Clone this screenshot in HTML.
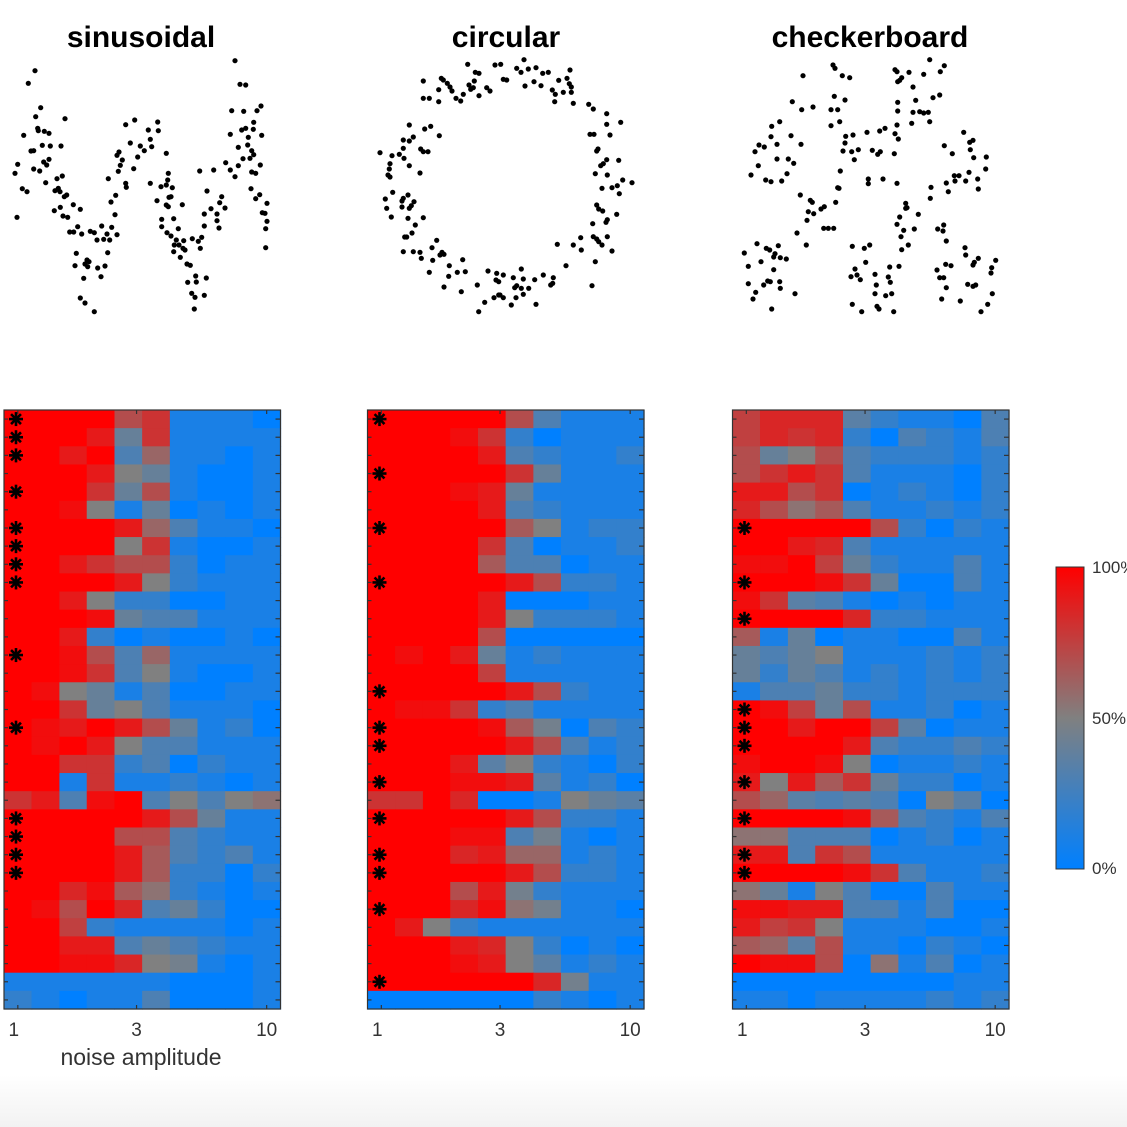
<!DOCTYPE html>
<html><head><meta charset="utf-8">
<style>
html,body{margin:0;padding:0;background:#fff;}
body{width:1127px;height:1127px;overflow:hidden;font-family:"Liberation Sans",Arial,sans-serif;}
svg{display:block;}
</style></head>
<body>
<svg id="fig" width="1127" height="1127" viewBox="0 0 1127 1127" xmlns="http://www.w3.org/2000/svg">
<defs>
<linearGradient id="cbgrad" x1="0" y1="0" x2="0" y2="1">
<stop offset="0" stop-color="#ff0000"/><stop offset="0.5" stop-color="#808080"/><stop offset="1" stop-color="#0080ff"/>
</linearGradient>
<linearGradient id="bottomfade" x1="0" y1="0" x2="0" y2="1">
<stop offset="0" stop-color="#ffffff"/><stop offset="1" stop-color="#f2f2f2"/>
</linearGradient>
</defs>
<rect x="0" y="1075" width="1127" height="52" fill="url(#bottomfade)"/>
<g id="layer"></g>
<g>
<rect x="1056" y="567" width="28" height="302" fill="url(#cbgrad)" stroke="#333" stroke-width="1"/>
<text x="1092" y="573" font-size="17" fill="#333">100%</text>
<text x="1092" y="724" font-size="17" fill="#333">50%</text>
<text x="1092" y="874" font-size="17" fill="#333">0%</text>
</g>
</svg>
<script>
// ---------- scatter data (x,y in local data units) ----------
const sinPts=[[90,32],[70,70],[690,2],[705,73],[722,75],[107,143],[92,170],[180,176],[680,152],[716,154],[756,152],[768,138],[56,226],[98,205],[100,212],[118,214],[132,220],[362,194],[389,180],[458,186],[430,210],[460,212],[676,223],[710,210],[722,205],[746,187],[745,208],[770,226],[730,232],[112,256],[136,258],[168,258],[78,273],[86,272],[376,249],[406,258],[440,260],[418,272],[436,238],[342,276],[336,286],[352,300],[398,291],[484,280],[700,262],[728,255],[740,272],[746,284],[735,295],[714,296],[38,313],[30,340],[86,327],[104,333],[116,306],[125,315],[132,298],[346,316],[340,334],[386,326],[662,308],[676,330],[690,350],[700,317],[584,333],[626,330],[740,336],[752,340],[766,315],[122,368],[156,356],[172,348],[150,392],[160,385],[165,395],[178,410],[185,405],[310,356],[362,370],[364,382],[436,370],[468,380],[484,375],[490,340],[488,360],[502,383],[498,410],[52,386],[66,395],[738,386],[752,416],[764,404],[786,430],[36,472],[148,452],[166,442],[205,434],[226,448],[174,468],[188,472],[318,426],[332,406],[330,464],[456,422],[484,435],[492,412],[490,440],[532,434],[606,393],[650,410],[644,428],[660,444],[598,462],[618,446],[636,462],[636,482],[642,504],[772,458],[780,460],[786,484],[782,506],[782,563],[194,516],[206,516],[218,500],[230,522],[256,514],[268,518],[290,498],[276,540],[296,538],[314,540],[306,522],[320,502],[336,524],[470,478],[470,500],[506,476],[486,518],[498,528],[520,506],[514,540],[508,555],[522,555],[536,542],[534,565],[540,570],[526,592],[506,575],[562,536],[580,544],[590,532],[586,565],[598,498],[214,580],[210,617],[240,612],[246,600],[252,605],[248,620],[278,624],[300,618],[308,578],[236,655],[288,650],[546,612],[556,616],[548,667],[572,648],[574,666],[604,654],[226,714],[240,729],[268,755],[560,700],[570,712],[598,706],[568,747]];
const circPts=[[293,28],[375,30],[392,28],[462,14],[440,40],[453,52],[475,42],[498,38],[518,55],[535,52],[600,45],[566,76],[591,70],[598,86],[604,96],[604,112],[610,145],[580,112],[556,118],[547,105],[554,140],[492,80],[513,92],[465,93],[400,73],[410,75],[316,52],[327,55],[313,78],[297,90],[302,103],[310,98],[350,98],[360,108],[327,122],[280,118],[272,138],[258,130],[240,96],[246,108],[232,85],[214,70],[220,75],[206,104],[206,140],[178,130],[160,130],[160,78],[656,148],[670,162],[710,176],[710,208],[752,202],[660,238],[672,238],[720,240],[684,282],[680,288],[710,314],[700,326],[746,316],[692,332],[676,356],[712,360],[758,375],[786,383],[742,392],[726,398],[748,416],[696,400],[680,450],[686,462],[698,468],[740,478],[712,494],[708,502],[668,506],[670,545],[680,552],[686,560],[712,545],[632,548],[610,570],[634,585],[696,570],[726,588],[676,620],[588,632],[562,568],[666,692],[550,668],[542,690],[548,685],[520,660],[494,674],[498,748],[476,700],[454,642],[460,672],[440,692],[434,698],[454,700],[460,718],[438,728],[424,750],[430,668],[400,660],[380,655],[378,675],[386,680],[354,648],[322,690],[372,728],[390,720],[400,728],[386,720],[344,742],[326,770],[278,614],[286,650],[262,652],[236,664],[238,632],[274,710],[222,696],[178,652],[188,616],[216,592],[210,600],[222,598],[186,578],[200,556],[154,610],[150,592],[130,590],[100,590],[104,546],[110,546],[126,534],[136,510],[114,490],[160,488],[64,486],[46,432],[50,460],[68,412],[96,438],[96,456],[100,430],[114,420],[118,460],[124,452],[132,440],[150,354],[118,332],[102,310],[88,298],[66,302],[60,326],[58,342],[54,360],[60,366],[30,293],[100,280],[100,255],[118,258],[130,246],[118,210],[164,222],[182,214],[208,242],[152,282],[160,290],[174,290]];
const checkPts=[[294,30],[300,40],[322,62],[344,68],[204,62],[172,140],[200,164],[234,156],[298,124],[330,135],[288,164],[308,164],[288,212],[314,200],[110,214],[134,200],[108,245],[168,242],[198,268],[72,270],[88,276],[60,290],[126,268],[126,312],[160,312],[176,325],[70,332],[48,360],[92,375],[108,380],[140,378],[156,356],[332,244],[354,240],[330,264],[324,288],[350,290],[370,284],[358,314],[396,232],[434,228],[450,220],[412,286],[428,298],[436,290],[478,296],[486,210],[480,236],[490,252],[316,348],[308,398],[312,400],[400,372],[400,386],[444,372],[486,385],[486,50],[480,44],[494,76],[500,68],[488,80],[522,52],[566,58],[584,14],[616,50],[628,32],[534,96],[542,136],[488,142],[488,168],[534,172],[554,170],[566,174],[580,172],[530,205],[584,200],[594,128],[614,120],[686,232],[704,262],[714,256],[706,284],[716,308],[754,306],[752,342],[628,272],[652,296],[702,352],[658,362],[672,362],[660,378],[692,378],[728,372],[730,402],[634,384],[640,410],[588,397],[586,430],[196,420],[226,436],[232,442],[220,470],[236,476],[258,462],[268,455],[302,442],[216,496],[186,534],[214,570],[266,520],[280,520],[296,520],[512,445],[512,460],[516,458],[550,478],[494,486],[486,508],[506,526],[538,522],[498,545],[520,570],[500,584],[608,522],[626,510],[624,528],[634,558],[690,578],[692,600],[730,610],[714,630],[718,622],[782,616],[770,638],[768,654],[632,628],[648,632],[606,645],[614,668],[626,668],[634,698],[698,688],[714,694],[722,690],[772,716],[758,748],[738,770],[676,738],[620,732],[66,566],[94,580],[104,585],[130,572],[28,594],[120,596],[116,606],[136,608],[154,612],[78,620],[40,634],[116,644],[98,678],[106,680],[134,680],[86,690],[40,686],[136,700],[180,716],[62,712],[54,732],[110,762],[352,574],[388,580],[404,570],[392,622],[360,642],[348,665],[366,660],[376,674],[420,658],[464,636],[492,634],[460,666],[466,682],[424,690],[420,716],[452,722],[470,716],[352,748],[380,770],[426,754],[432,762],[476,770]];

// ---------- heatmap data (0..10 => 0%..100%) ----------
const noiseLevels=[1,1.29,1.67,2.15,2.78,3.59,4.64,5.99,7.74,10];
const xTickValues=[1,3,10];
const xTickLabels=["1","3","10"];
const cbTickLabels=["100%","50%","0%"];
const sinVals=[
[10,10,10,10,7,8,1,1,1,0],[10,10,10,9,4,8,1,1,1,1],[10,10,9,10,3,6,1,1,0,1],[10,10,10,9,5,4,1,0,0,1],
[10,10,10,8,4,7,1,0,0,1],[10,10,9.5,5,1,4,0,1,0,1],[10,10,10,10,9,6,3,1,1,0],[10,10,10,10,5,8,1,0,0,1],
[10,10,9,8,7,7,2,0,1,1],[10,10,10,10,9,5,2,1,1,1],[10,10,9,5,2,2,0,0,1,1],[10,10,10,9.5,4,3,3,1,1,1],
[10,10,9,2,0,1,0,0,1,0],[10,10,9.5,7,3,6,1,1,1,1],[10,10,9.5,8,3,5,1,0,0,1],[10,9.5,5,4,1,3,0,0,1,1],
[10,10,8,4,5,3,1,1,1,0],[10,9.5,9,10,9,7,4,1,2,0],[10,9.5,10,9,5,3,3,1,1,1],[10,10,8,8,2,3,0,2,1,1],
[10,10,1,8,1,1,2,1,0,1],[8,9,3,9.5,10,3,5,3,5,5.5],[10,10,10,10,10,9,7,4,1,1],[10,10,10,10,7,7,3,2,1,1],
[10,10,10,10,9,6.5,3,2,3,1],[10,10,10,10,9,6.5,2,2,0,2],[10,10,8.5,9.5,6.5,5.5,2,1,0,1],[10,9.5,7,10,8.5,3,4,2,0,0],
[10,10,7.5,2,1,1,1,1,0,1],[10,10,9,9,3,4,3,2,1,1],[10,10,9.5,9.5,8.5,5,4.5,1,0,1],[1,1,1,1,1,1,0,0,0,1],
[2,1,0,1,1,3,0,0,0,1]];
const circVals=[
[10,10,10,10,10,7,3,1,1,1],[10,10,10,9.5,8,2,0,1,1,1],[10,10,10,10,9,3,2,1,1,2],[10,10,10,10,10,8,4,1,1,1],
[10,10,10,9.5,9,4,1,1,1,1],[10,10,10,10,9,3,2,1,1,1],[10,10,10,10,10,6.5,5,1,2,2],[10,10,10,10,8,3,0,1,1,2],
[10,10,10,10,6.5,3,3,0,1,1],[10,10,10,10,10,9,7,2,2,1],[10,10,10,10,9,0,0,0,1,1],[10,10,10,10,9,5,2,2,2,1],
[10,10,10,10,7,0,0,0,0,0],[10,9.5,10,9,4,1,2,1,1,1],[10,10,10,10,7.5,1,1,1,1,1],[10,10,10,10,10,9,7,2,1,1],
[10,9.5,9.5,8,2,3,1,1,1,1],[10,10,10,10,9.5,6.5,4.5,0,3,2],[10,10,10,10,10,9,7,3,1,2],[10,10,10,9,3.5,5,2,1,0,2],
[10,10,10,9.5,9.5,9,3.5,1,2,0],[8,8,10,8.5,0,0,1,5,4,3.5],[10,10,10,10,10,9,7,2,2,1],[10,10,10,9.5,9.5,3,4.5,1,0,1],
[10,10,10,8.5,9,6,6,1,2,1],[10,10,10,10,10,9,7,2,2,1],[10,10,10,7,9,4.5,2,1,1,1],[10,10,10,8.5,9.5,5.5,4.5,1,1,0],
[10,9,5,2,1,1,1,1,1,1],[10,10,10,9,8.5,5,2,0,1,0],[10,10,10,9.5,9,5,3.5,1,2,1],[10,10,10,10,10,10,8.5,4.5,1,1],
[0,0,0,0,0,0,2,1,0,1]];
const checkVals=[
[7.5,8.5,8.5,8.5,3.5,2,1,1,0,3],[7.5,8.5,8,8.5,2,0,3,2,1,3],[7,4,5,7,3,2,2,2,1,2],[7,8,9,8,3,1,1,1,0,2],
[9,9,7,8,0,1,2,1,0,2],[8.5,7,5.5,6.5,3,1,1,2,1,2],[10,10,10,10,10,7,2,0,2,1],[10,10,9,8.5,3,1,1,1,1,1],
[9.5,9.5,10,7.5,4,2,1,1,3,1],[10,10,10,9.5,8,4,0,0,3,1],[9.5,8,3.5,3,1,0,1,0,1,1],[10,10,10,10,8.5,2,2,1,1,1],
[6.5,1,4,0,1,1,0,0,3,1],[4,3,4,5,1,1,1,2,1,2],[4,2,4,3,1,2,1,2,1,2],[1,3,3,4,2,2,1,2,2,2],
[10,9.5,7.5,4,7,1,1,2,0,1],[10,10,9,10,10,7.5,3.5,0,1,1],[10,10,10,10,9,3,2,2,3,2],[9.5,10,10,9.5,5,0,1,1,2,1],
[9,5,9,6.5,8,4,2,2,0,1],[7,6,3.5,3,3.5,3,0,5,3.5,0],[10,10,10,10,9.5,6.5,3,2,1,3],[5.5,5.5,3,3,3,0,1,2,0,1],
[9,9,3,8,7,1,1,1,1,1],[10,10,10,10,9.5,8,3,1,1,2],[5.5,4,1,5,3,0,0,3,1,1],[9.5,9.5,9,9,3,3,1,3,0,0],
[9,7.5,8,5,1,1,1,0,0,1],[6.5,6,3.5,7,1,1,0,2,1,0],[10,9.5,9.5,7,0,5.5,1,3,0,1],[0,0,0,0,0,0,0,0,1,1],
[1,1,0,1,1,1,1,2,1,2]];
const sinStars=[1,2,3,5,7,8,9,10,14,18,23,24,25,26];
const circStars=[1,4,7,10,16,18,19,21,23,25,26,28,32];
const checkStars=[7,10,12,17,18,19,21,23,25,26];
const titles=["sinusoidal","circular","checkerboard"];

// ---------- layout ----------
const NS="http://www.w3.org/2000/svg";
const layer=document.getElementById('layer');
const panels=[
 {name:"sinusoidal",pts:sinPts,vals:sinVals,stars:sinStars,hx:4,sx:5,sy:60,tcx:141},
 {name:"circular",pts:circPts,vals:circVals,stars:circStars,hx:367.5,sx:370,sy:55,tcx:506},
 {name:"checkerboard",pts:checkPts,vals:checkVals,stars:checkStars,hx:732.5,sx:735,sy:55,tcx:870}
];
const HW=276.5, HT=410, HB=1009;
function mk(tag,attrs,parent){const e=document.createElementNS(NS,tag);for(const k in attrs)e.setAttribute(k,attrs[k]);(parent||layer).appendChild(e);return e;}
function cmap(v){const t=Math.max(0,Math.min(1,v/10));let r,g,b;
 if(t<0.5){const u=t/0.5;r=0+128*u;g=128;b=255-127*u;}else{const u=(t-0.5)/0.5;r=128+127*u;g=128-128*u;b=128-128*u;}
 return `rgb(${Math.round(r)},${Math.round(g)},${Math.round(b)})`;}

panels.forEach((p,pi)=>{
 const nRows=p.vals.length, nCols=p.vals[0].length;
 const cw=HW/nCols, rh=(HB-HT)/nRows;
 const lmin=Math.log10(noiseLevels[0]), lmax=Math.log10(noiseLevels[nCols-1]);
 const xScale=v=>p.hx+cw/2+(Math.log10(v)-lmin)/(lmax-lmin)*(HW-cw);
 const yRow=r=>HT+r*rh;
 const t=mk('text',{x:p.tcx,y:47,'text-anchor':'middle','font-size':'30','font-weight':'bold',fill:'#000'});
 t.textContent=titles[pi];
 
 
 const sg=mk('g',{});
 
 
 const sxs=v=>p.sx+v/3, sys=v=>p.sy+v/3;
 p.pts.forEach(pt=>{const c=mk('circle',{cx:sxs(pt[0]).toFixed(1),cy:sys(pt[1]).toFixed(1),r:2.6,fill:'#000'},sg);
  
  });
 const hg=mk('g',{});
 
 
 p.vals.forEach((row,ri)=>row.forEach((v,ci)=>{
  const x=xScale(noiseLevels[ci])-cw/2;
  const c=mk('rect',{x:x.toFixed(2),y:yRow(ri).toFixed(2),width:(cw+0.6).toFixed(2),height:(rh+0.6).toFixed(2),fill:cmap(v)},hg);
  
  
 }));
 const fr=mk('rect',{x:p.hx,y:HT,width:HW,height:HB-HT,fill:'none',stroke:'#333','stroke-width':1.2});
 
 
 for(let r=0;r<nRows;r++){const y=yRow(r)+rh/2;
  mk('line',{x1:p.hx,x2:p.hx+4,y1:y,y2:y,stroke:'#333','stroke-width':1.2});
  mk('line',{x1:p.hx+HW-5,x2:p.hx+HW,y1:y,y2:y,stroke:'#333','stroke-width':1.2});}
 xTickValues.forEach((v,i)=>{const x=xScale(v);
  mk('line',{x1:x,x2:x,y1:HB,y2:HB-4,stroke:'#333','stroke-width':1.2});
  mk('line',{x1:x,x2:x,y1:HT,y2:HT+4,stroke:'#333','stroke-width':1.2});
  const tl=mk('text',{x:x-(i==0?4:0),y:1036,'text-anchor':'middle','font-size':'19',fill:'#333'});
  tl.textContent=xTickLabels[i];
  
  });
 p.stars.forEach(r=>{const cx=p.hx+12, cy=yRow(r-1)+rh/2;
  const g=mk('g',{stroke:'#000','stroke-width':2.6});
  
  
  for(let k=0;k<4;k++){const a=k*Math.PI/4, dx=7*Math.cos(a), dy=7*Math.sin(a);
   mk('line',{x1:cx-dx,y1:cy-dy,x2:cx+dx,y2:cy+dy},g);}
 });
});
const xl=mk('text',{x:141,y:1065,'text-anchor':'middle','font-size':'23',fill:'#333'});
xl.textContent="noise amplitude";


</script>
</body></html>
